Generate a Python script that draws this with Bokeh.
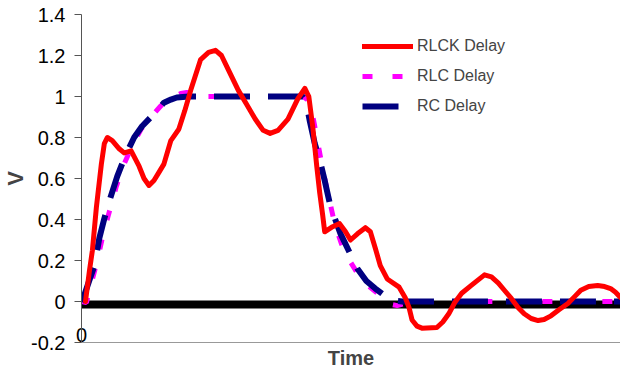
from bokeh.plotting import figure
from bokeh.models import Range1d, FixedTicker, Legend, LegendItem
from bokeh.embed import file_html
from bokeh.resources import INLINE

# ---- data (arbitrary time units, volts) ----
rlck_t = [4, 8, 11, 15, 20, 23, 26, 31, 38, 43, 50, 58, 63, 68, 73, 78, 83, 90, 98, 104,
          110, 120, 128, 135, 141, 148, 158, 166, 175, 183, 190, 198, 208, 218, 225, 229,
          233, 237, 240, 243, 245, 253, 260, 266, 271, 278, 286, 291, 296, 301, 308, 320,
          326, 330, 333, 338, 343, 358, 364, 370, 376, 383, 393, 406, 413, 420, 426, 433,
          440, 446, 453, 460, 466, 473, 481, 490, 497, 503, 511, 520, 527, 533, 538, 543]
rlck_v = [0.0, 0.15, 0.25, 0.46, 0.67, 0.77, 0.80, 0.785, 0.745, 0.725, 0.735, 0.66, 0.60,
          0.566, 0.59, 0.63, 0.67, 0.785, 0.84, 0.93, 1.03, 1.18, 1.215, 1.225, 1.20, 1.13,
          1.03, 0.965, 0.89, 0.835, 0.82, 0.835, 0.89, 0.99, 1.04, 1.0, 0.85, 0.66, 0.53,
          0.42, 0.34, 0.365, 0.38, 0.34, 0.30, 0.33, 0.36, 0.34, 0.26, 0.175, 0.11, 0.07,
          0.02, -0.03, -0.09, -0.12, -0.13, -0.127, -0.10, -0.06, -0.005, 0.04, 0.08, 0.13,
          0.12, 0.09, 0.055, 0.015, -0.03, -0.06, -0.083, -0.093, -0.088, -0.07, -0.04,
          -0.01, 0.025, 0.055, 0.073, 0.078, 0.073, 0.063, 0.045, 0.02]

rlc_t = [0, 5, 10, 16, 21, 27, 35, 42, 51, 60, 70, 80, 90, 100, 106, 112, 120, 223, 229,
         234, 239, 244, 250, 255, 262, 270, 279, 287, 297, 306, 313, 318, 326, 335, 543]
rlc_v = [0.0, -0.005, 0.09, 0.20, 0.31, 0.42, 0.56, 0.66, 0.76, 0.84, 0.90, 0.955, 0.99,
         1.015, 1.02, 1.01, 1.0, 1.0, 0.98, 0.88, 0.75, 0.62, 0.49, 0.38, 0.28, 0.20, 0.13,
         0.085, 0.045, 0.01, -0.015, -0.02, -0.01, 0.0, 0.0]

rc_t = [0, 1, 7, 13, 18, 23, 28, 36, 44, 53, 61, 70, 76, 83, 90, 96, 108, 223, 226, 230,
        235, 240, 245, 251, 256, 261, 269, 278, 287, 296, 305, 313, 323, 543]
rc_v = [0.0, 0.005, 0.09, 0.175, 0.31, 0.405, 0.49, 0.61, 0.71, 0.80, 0.855, 0.90, 0.93,
        0.97, 0.985, 0.995, 1.0, 1.0, 0.98, 0.88, 0.77, 0.69, 0.59, 0.46, 0.395, 0.33,
        0.25, 0.16, 0.10, 0.063, 0.03, 0.005, 0.0, 0.0]

base_t = [0, 543]
base_v = [-0.015, -0.015]

y_ticks = [-0.2, 0, 0.2, 0.4, 0.6, 0.8, 1, 1.2, 1.4]
y_tick_labels = ["-0.2", "0", "0.2", "0.4", "0.6", "0.8", "1", "1.2", "1.4"]
x_ticks = [0]
x_tick_labels = ["0"]

FONT = "Liberation Sans"

p = figure(width=620, height=372, output_backend="svg", toolbar_location=None,
           x_range=Range1d(0, 543), y_range=Range1d(-0.2, 1.4),
           min_border_left=77, min_border_top=14, min_border_right=0, min_border_bottom=30)
p.outline_line_color = None
p.xgrid.visible = False
p.ygrid.visible = False
p.background_fill_color = "white"
p.border_fill_color = "white"

# y axis
p.yaxis.ticker = FixedTicker(ticks=y_ticks)
p.yaxis.major_label_overrides = {t: l for t, l in zip(y_ticks, y_tick_labels)}
p.yaxis.major_tick_out = 7
p.yaxis.major_tick_in = 0
p.yaxis.minor_tick_line_color = None
p.yaxis.major_label_standoff = 9
p.yaxis.major_label_text_font = FONT
p.yaxis.major_label_text_font_size = "20px"
p.yaxis.major_label_text_color = "black"
p.yaxis.axis_line_color = "#555555"
p.yaxis.major_tick_line_color = "#555555"
p.yaxis.axis_label = "V"
p.yaxis.axis_label_text_font = FONT
p.yaxis.axis_label_text_font_style = "bold"
p.yaxis.axis_label_text_font_size = "22px"
p.yaxis.axis_label_standoff = 0

# x axis
p.xaxis.ticker = FixedTicker(ticks=x_ticks)
p.xaxis.major_label_overrides = {t: l for t, l in zip(x_ticks, x_tick_labels)}
p.xaxis.major_tick_out = 0
p.xaxis.major_tick_in = 0
p.xaxis.minor_tick_line_color = None
p.xaxis.major_label_standoff = -15
p.xaxis.major_label_text_font = FONT
p.xaxis.major_label_text_font_size = "20px"
p.xaxis.major_label_text_color = "black"
p.xaxis.axis_line_color = "#999999"
p.xaxis.axis_label = "Time"
p.xaxis.axis_label_text_font = FONT
p.xaxis.axis_label_text_font_style = "bold"
p.xaxis.axis_label_text_font_size = "20px"
p.xaxis.axis_label_standoff = 2

p.line(base_t, base_v, line_color="black", line_width=8)
r_rlc = p.line(rlc_t, rlc_v, line_color="#FF00FF", line_width=5, line_dash="10 20")
r_rc = p.line(rc_t, rc_v, line_color="#000080", line_width=6, line_dash="36 18")
r_rlck = p.line(rlck_t, rlck_v, line_color="#FF0000", line_width=5, line_cap="round",
                line_join="round")

legend = Legend(items=[LegendItem(label="RLCK Delay", renderers=[r_rlck]),
                       LegendItem(label="RLC Delay", renderers=[r_rlc]),
                       LegendItem(label="RC Delay", renderers=[r_rc])],
                location=(281, 226), padding=0, margin=0, spacing=10,
                glyph_width=51, glyph_height=20, label_height=20, label_standoff=4,
                border_line_color=None, background_fill_alpha=0,
                label_text_font=FONT, label_text_font_size="16px")
p.add_layout(legend, "center")

open("out.html", "w").write(file_html(p, INLINE))
